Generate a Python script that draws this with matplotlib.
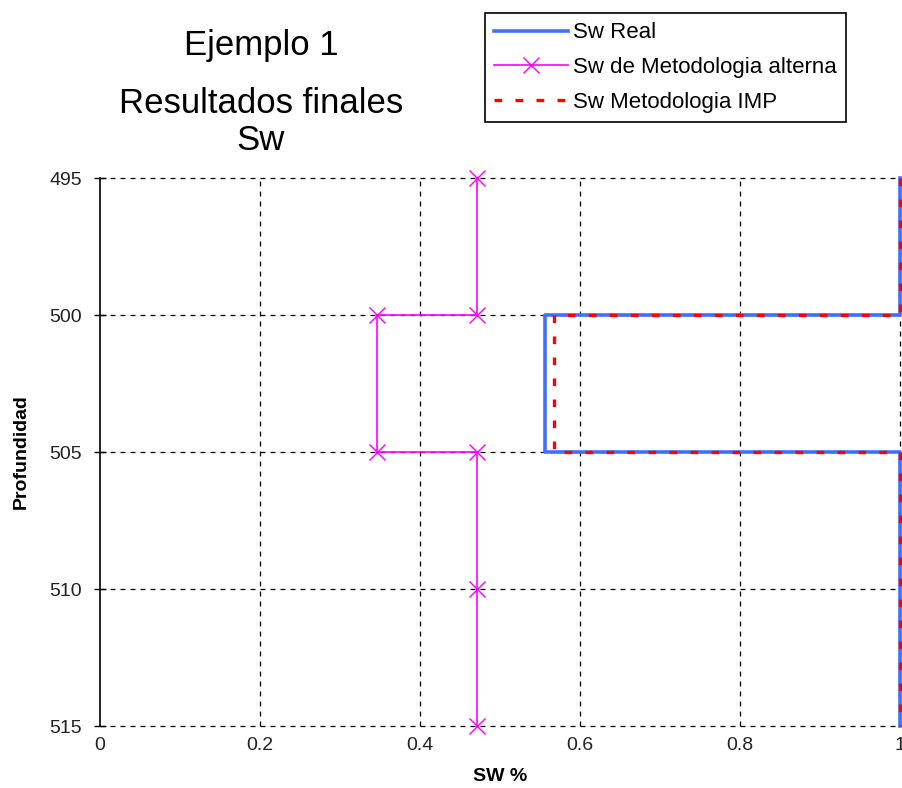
import matplotlib
matplotlib.use("Agg")
import matplotlib.pyplot as plt

# Datos (profundidad vs Sw)
prof_real = [495, 500, 500, 505, 505, 515]
sw_real = [1.0, 1.0, 0.556, 0.556, 1.0, 1.0]

prof_alt = [495, 500, 500, 505, 505, 510, 515]
sw_alt = [0.471, 0.471, 0.346, 0.346, 0.471, 0.471, 0.471]

prof_imp = [495, 500, 500, 505, 505, 515]
sw_imp = [1.0, 1.0, 0.567, 0.567, 1.0, 1.0]

y_ticks = [495, 500, 505, 510, 515]
x_ticks = [0, 0.2, 0.4, 0.6, 0.8, 1]
x_labels = ["0", "0.2", "0.4", "0.6", "0.8", "1"]

plt.rcParams['font.family'] = ['Liberation Sans', 'DejaVu Sans']

fig = plt.figure(figsize=(9.02, 7.88), dpi=100)
ax = fig.add_axes([100 / 902, 62 / 788, 800 / 902, 548 / 788])

ax.plot(sw_real, prof_real, color="#3f6fff", lw=2.6, label="Sw Real",
        clip_on=False, zorder=3)
ax.plot(sw_alt, prof_alt, color="#ff00ff", lw=1.2, marker="x", ms=11,
        mew=1.0, label="Sw de Metodologia alterna", clip_on=False, zorder=4)
ax.plot(sw_imp, prof_imp, color="#ff0000", lw=2.4, ls=(0, (2.3, 4.0)),
        label="Sw Metodologia IMP", clip_on=False, zorder=5)

ax.set_xlim(0, 1)
ax.set_ylim(515, 495)
ax.set_xticks(x_ticks)
ax.set_xticklabels(x_labels)
ax.set_yticks(y_ticks)

# rejilla punteada (dibujada a mano para que no se recorte en los bordes)
for xv in x_ticks[1:]:
    ax.axvline(xv, color="black", ls=(0, (4, 4)), lw=0.9, zorder=1, clip_on=False)
for yv in y_ticks:
    ax.axhline(yv, color="black", ls=(0, (4, 4)), lw=0.9, zorder=1, clip_on=False)

for s in ["top", "right", "bottom"]:
    ax.spines[s].set_visible(False)
ax.spines["left"].set_linewidth(1.2)

ax.tick_params(axis="y", direction="inout", length=8, width=1, labelsize=14,
               pad=9, labelcolor="#222222")
ax.tick_params(axis="x", length=0, labelsize=14, pad=8, labelcolor="#222222")

ax.set_xlabel("SW %", fontsize=14, fontweight="bold", labelpad=10)
ax.set_ylabel("Profundidad", fontsize=14, fontweight="bold", labelpad=14)

# Titulos
fig.text(261 / 902, 1 - 55 / 788, "Ejemplo 1", fontsize=25, ha="center", va="baseline")
fig.text(261 / 902, 1 - 113 / 788, "Resultados finales", fontsize=25, ha="center", va="baseline")
fig.text(261 / 902, 1 - 150 / 788, "Sw", fontsize=25, ha="center", va="baseline")

leg = fig.legend(loc="upper left", bbox_to_anchor=(485 / 902, 1 - 13 / 788),
                 bbox_transform=fig.transFigure, borderaxespad=0, fontsize=16,
                 handlelength=3.3, handletextpad=0.25, labelspacing=0.62,
                 fancybox=False, framealpha=1, edgecolor="black",
                 numpoints=1, borderpad=0.42)
leg.get_frame().set_linewidth(1.2)

fig.savefig("out.png", dpi=100)
